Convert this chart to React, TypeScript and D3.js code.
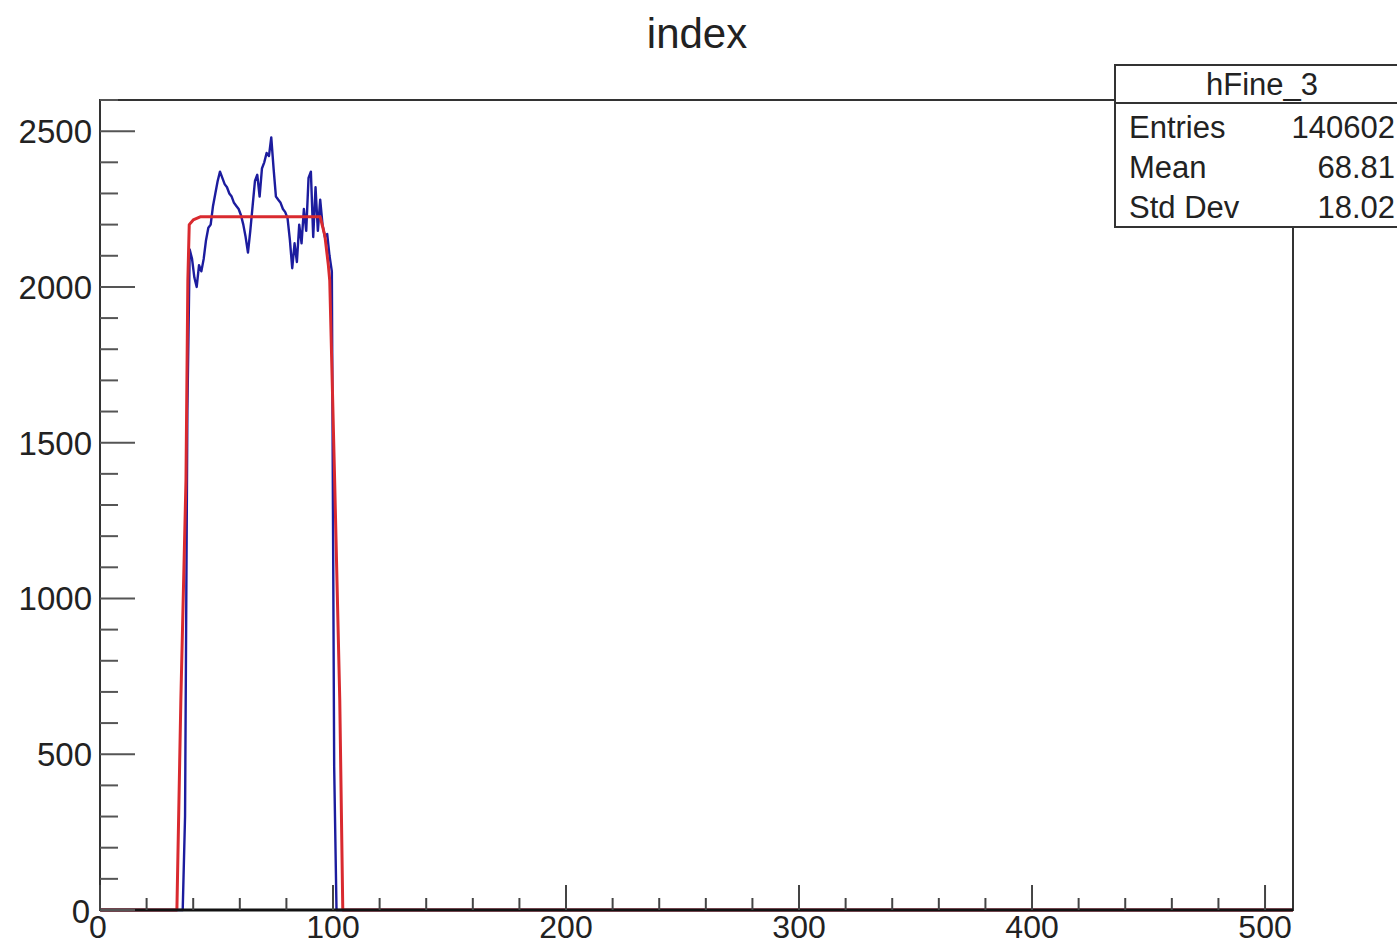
import React from "react";
import * as d3 from "d3";

// Histogram hFine_3: counts per unit-wide bin, first non-empty bin is 36
const firstBin = 36;
const binCounts = [
  300, 1600, 2120, 2090, 2030, 2000, 2070, 2050, 2090, 2150,
  2190, 2200, 2260, 2300, 2340, 2370, 2350, 2330, 2320, 2300,
  2290, 2270, 2260, 2250, 2230, 2200, 2160, 2110, 2180, 2260,
  2340, 2360, 2290, 2380, 2400, 2430, 2420, 2480, 2380, 2290,
  2280, 2270, 2250, 2240, 2220, 2150, 2060, 2140, 2080, 2200,
  2140, 2250, 2180, 2350, 2370, 2160, 2320, 2180, 2280, 2200,
  2160, 2170, 2100, 2050, 460,
];
const nBins = 512;

// Fitted box function, sampled points (x, value)
const fitX = [0, 33.0, 34.7, 36.9, 37.7, 38.3, 40.0, 43.0, 94.5, 96.5, 98.0, 98.6, 100.7, 102.9, 104.2, 512];
const fitY = [0, 0, 674, 1380, 2020, 2200, 2215, 2225, 2225, 2165, 2070, 2020, 1380, 674, 0, 0];

const xMajorTicks = [0, 100, 200, 300, 400, 500];
const yMajorTicks = [0, 500, 1000, 1500, 2000, 2500];

const statsTitle = "hFine_3";
const statsLabels = ["Entries", "Mean", "Std Dev"];
const statsValues = ["140602", "68.81", "18.02"];

const W = 1397;
const H = 945;
const frame = { left: 100, right: 1293, top: 100, bottom: 910 };
const font = "'Liberation Sans', Arial, Helvetica, sans-serif";

export default function App() {
  const x = d3.scaleLinear().domain([0, 512]).range([frame.left, frame.right]);
  const y = d3.scaleLinear().domain([0, 2600]).range([frame.bottom, frame.top]);

  const histPts: [number, number][] = [];
  for (let i = 0; i < nBins; i++) {
    const k = i - firstBin;
    const v = k >= 0 && k < binCounts.length ? binCounts[k] : 0;
    histPts.push([i + 0.5, v]);
  }
  const line = d3
    .line<[number, number]>()
    .x((d) => x(d[0]))
    .y((d) => y(d[1]));
  const fitPts: [number, number][] = fitX.map((v, i) => [v, fitY[i]]);

  const xMinor = d3.range(0, 513, 20).filter((v) => v % 100 !== 0);
  const yMinor = d3.range(0, 2601, 100).filter((v) => v % 500 !== 0);

  const box = { left: 1115, top: 65, right: 1410, bottom: 227, sep: 103 };

  return (
    <svg
      width={W}
      height={H}
      style={{ position: "absolute", left: 0, top: 0, background: "#fff" }}
      fontFamily={font}
    >
      <rect x={0} y={0} width={W} height={H} fill="#fff" />
      <text x={697} y={48} fontSize={42} textAnchor="middle" fill="#222">
        index
      </text>

      {/* data */}
      <path d={line(histPts) ?? ""} fill="none" stroke="#1c1c9e" strokeWidth={2.4} strokeLinejoin="round" />
      <path d={line(fitPts) ?? ""} fill="none" stroke="#d92a2f" strokeWidth={3} strokeLinejoin="round" />

      {/* frame */}
      <rect
        x={frame.left}
        y={frame.top}
        width={frame.right - frame.left}
        height={frame.bottom - frame.top}
        fill="none"
        stroke="#333"
        strokeWidth={2}
      />
      <line x1={frame.left} x2={frame.right} y1={frame.bottom} y2={frame.bottom} stroke="#111" strokeWidth={3} />

      {/* y axis */}
      {yMajorTicks.map((t) => (
        <g key={"ym" + t}>
          <line x1={frame.left} x2={frame.left + 35} y1={y(t)} y2={y(t)} stroke="#555" strokeWidth={2} />
          <text
            x={t === 0 ? 90 : 92}
            y={y(t) + (t === 0 ? 13 : 12)}
            fontSize={33}
            textAnchor="end"
            fill="#222"
          >
            {t}
          </text>
        </g>
      ))}
      {yMinor.map((t) => (
        <line key={"yn" + t} x1={frame.left} x2={frame.left + 18} y1={y(t)} y2={y(t)} stroke="#555" strokeWidth={2} />
      ))}

      {/* x axis */}
      {xMajorTicks.map((t) => (
        <g key={"xm" + t}>
          <line x1={x(t)} x2={x(t)} y1={frame.bottom} y2={frame.bottom - 25} stroke="#444" strokeWidth={2} />
          <text x={x(t) - (t === 0 ? 2 : 0)} y={938} fontSize={32} textAnchor="middle" fill="#222">
            {t}
          </text>
        </g>
      ))}
      {xMinor.map((t) => (
        <line key={"xn" + t} x1={x(t)} x2={x(t)} y1={frame.bottom} y2={frame.bottom - 12} stroke="#444" strokeWidth={2} />
      ))}

      {/* statistics box */}
      <rect
        x={box.left}
        y={box.top}
        width={box.right - box.left}
        height={box.bottom - box.top}
        fill="#fff"
        stroke="#333"
        strokeWidth={2}
      />
      <line x1={box.left} x2={box.right} y1={box.sep} y2={box.sep} stroke="#333" strokeWidth={2} />
      <text x={1262} y={95} fontSize={31} textAnchor="middle" fill="#222">
        {statsTitle}
      </text>
      {statsLabels.map((lab, i) => (
        <g key={lab}>
          <text x={1129} y={138 + i * 40} fontSize={31} fill="#222">
            {lab}
          </text>
          <text x={1395} y={138 + i * 40} fontSize={31} textAnchor="end" fill="#222">
            {statsValues[i]}
          </text>
        </g>
      ))}
    </svg>
  );
}
